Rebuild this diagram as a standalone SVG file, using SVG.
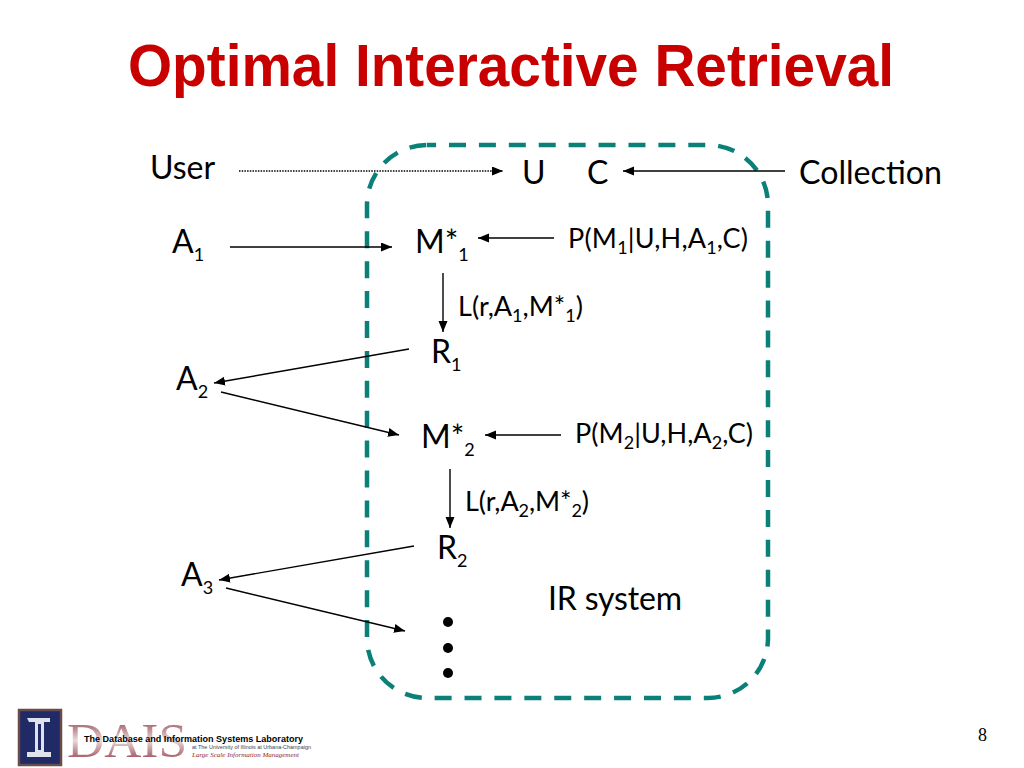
<svg xmlns="http://www.w3.org/2000/svg" width="1024" height="768" viewBox="0 0 1024 768">
<style>
text{font-family:"Lato","Noto Sans","Liberation Sans",sans-serif;fill:#000}
.l{font-size:32px}
.m{font-size:27px}
.s{font-size:18px}
.st{font-size:38px}
.c{stroke:#000;stroke-width:1.4;fill:none;marker-end:url(#a)}
</style>
<defs>
<marker id="a" markerUnits="userSpaceOnUse" markerWidth="12" markerHeight="10" refX="11" refY="4.5" orient="auto"><path d="M0 0L11 4.5L0 9Z" fill="#000"/></marker>
<linearGradient id="d" x1="0" y1="0" x2="0" y2="1"><stop offset="0" stop-color="#7c1f2c"/><stop offset=".5" stop-color="#ead9da"/><stop offset="1" stop-color="#7c1422"/></linearGradient>
</defs>
<rect width="1024" height="768" fill="#fff"/>
<text id="title" x="511" y="86" text-anchor="middle" style="font-family:'Liberation Sans',sans-serif;font-weight:700;font-size:60px;fill:#c80000" textLength="766" lengthAdjust="spacingAndGlyphs">Optimal Interactive Retrieval</text>
<rect id="system" x="367" y="145" width="401" height="553" rx="60" ry="60" fill="none" stroke="#0b8078" stroke-width="4.5" stroke-dasharray="17 12.91" stroke-dashoffset="-22"/>
<g id="connectors">
<path d="M239 171H503" stroke="#000" stroke-width="1.3" stroke-dasharray="1.5 1.2" fill="none" marker-end="url(#a)"/>
<path class="c" d="M785 171H623"/>
<path class="c" d="M230 247H392"/>
<path class="c" d="M554 238H478"/>
<path class="c" d="M443 273V332"/>
<path class="c" d="M409 349L214 383"/>
<path class="c" d="M221 392L399 435"/>
<path class="c" d="M561 435H485"/>
<path class="c" d="M450 469V528"/>
<path class="c" d="M414 546L219 580"/>
<path class="c" d="M226 588L405 631"/>
</g>
<g id="user"><text class="l" x="150" y="179">User</text></g>
<g id="u"><text class="l" x="522" y="184">U</text></g>
<g id="c"><text class="l" x="587" y="184">C</text></g>
<g id="collection"><text class="l" x="799" y="184" textLength="143" lengthAdjust="spacingAndGlyphs">Collection</text></g>
<g id="a1"><text class="l" x="172" y="253">A<tspan class="s" dy="8">1</tspan></text></g>
<g id="m1"><text class="l" x="415" y="253">M*<tspan class="s" dy="8">1</tspan></text></g>
<g id="p1"><text class="m" x="568" y="248" textLength="180">P(M<tspan class="s" dy="6">1</tspan><tspan dy="-6">|U,H,A</tspan><tspan class="s" dy="6">1</tspan><tspan dy="-6">,C)</tspan></text></g>
<g id="l1"><text class="m" x="458" y="316" textLength="125">L(r,A<tspan class="s" dy="6">1</tspan><tspan dy="-6">,M*</tspan><tspan class="s" dy="6">1</tspan><tspan dy="-6">)</tspan></text></g>
<g id="r1"><text class="l" x="431" y="363">R<tspan class="s" dy="8">1</tspan></text></g>
<g id="a2"><text class="l" x="176" y="390">A<tspan class="s" dy="8">2</tspan></text></g>
<g id="m2"><text class="l" x="421" y="448">M*<tspan class="s" dy="8">2</tspan></text></g>
<g id="p2"><text class="m" x="575" y="443" textLength="178">P(M<tspan class="s" dy="6">2</tspan><tspan dy="-6">|U,H,A</tspan><tspan class="s" dy="6">2</tspan><tspan dy="-6">,C)</tspan></text></g>
<g id="l2"><text class="m" x="465" y="511" textLength="124">L(r,A<tspan class="s" dy="6">2</tspan><tspan dy="-6">,M*</tspan><tspan class="s" dy="6">2</tspan><tspan dy="-6">)</tspan></text></g>
<g id="r2"><text class="l" x="437" y="559">R<tspan class="s" dy="8">2</tspan></text></g>
<g id="a3"><text class="l" x="181" y="586">A<tspan class="s" dy="8">3</tspan></text></g>
<g id="ir"><text class="l" x="548" y="610" textLength="134">IR system</text></g>
<g id="dots" fill="#000"><circle cx="448" cy="622" r="5"/><circle cx="448" cy="648" r="5"/><circle cx="448" cy="673" r="5"/></g>
<g id="logo">
<rect x="19" y="710" width="42" height="55" fill="#1f2a66" stroke="#6b4a4a" stroke-width="2.5"/>
<path d="M27 718H50V722H44V752H51V757H27V752H35V722H29Z" fill="#dfe2ea"/>
<path d="M38 724H41V750H38Z" fill="#1f2a66"/>
<text x="67" y="757" style="font-family:'Liberation Serif',serif;font-size:49px;fill:url(#d)" textLength="120" lengthAdjust="spacingAndGlyphs">DAIS</text>
<text x="84" y="742" style="font-family:'Liberation Sans',sans-serif;font-weight:700;font-size:8.2px" textLength="219" lengthAdjust="spacingAndGlyphs">The Database and Information Systems Laboratory</text>
<text x="192" y="749" style="font-family:'Liberation Sans',sans-serif;font-size:5px;fill:#444" textLength="119" lengthAdjust="spacingAndGlyphs">at The University of Illinois at Urbana-Champaign</text>
<text x="192" y="757" style="font-family:'Liberation Serif',serif;font-style:italic;font-size:6.5px;fill:#8c1f2e" textLength="107" lengthAdjust="spacingAndGlyphs">Large Scale Information Management</text>
</g>
<g id="page"><text x="978" y="741" style="font-family:'Liberation Serif',serif;font-size:18px">8</text></g>
</svg>
